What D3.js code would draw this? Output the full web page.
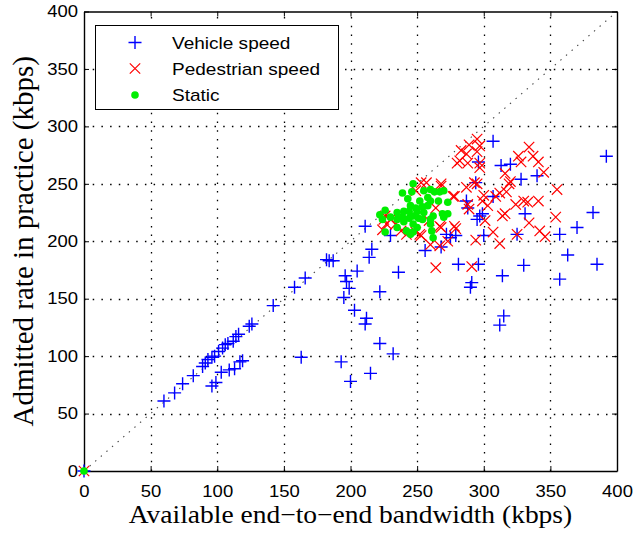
<!DOCTYPE html>
<html>
<head>
<meta charset="utf-8">
<script src="https://cdn.jsdelivr.net/npm/d3@7"></script>
<style>
  html, body { margin: 0; padding: 0; background: #fff; }
  svg { display: block; }
</style>
</head>
<body>
<svg id="chart" width="641" height="533"></svg>
<script>
// Measured throughput: available end-to-end bandwidth vs. admitted rate (kbps)
const tickValues = [0, 50, 100, 150, 200, 250, 300, 350, 400];

const seriesNames = ["Vehicle speed", "Pedestrian speed", "Static"];

const vehicle = [
  [0,0],
  [60,61],[68,68],[74,76],[82,83],[89,91],[91,94],[93,97],[96,99],[98,100],
  [101,104],[104,107],[106,110],[108,111],[112,113],[114,117],[116,119],
  [124,126],[126,128],[142,144],[158,160],[166,168],[182,184],[184,183],[187,183],
  [96,74],[99,77],[103,86],[109,88],[113,89],[117,95],[119,96],
  [163,99],[193,95],
  [211,213],[230,205],[216,193],[214,186],[205,174],[236,173],[196,170],[197,165],
  [199,159],[195,151],[222,156],[203,140],[212,133],[211,128],[222,111],[232,102],
  [215,85],[200,78],
  [256,192],[268,195],[281,180],[272,206],[275,203],[279,205],
  [287,235],[288,229],[297,222],[299,224],[295,219],[300,205],[296,180],
  [291,164],[290,160],[315,135],[312,127],[314,170],[330,179],
  [307,287],[313,266],[320,267],[328,254],[340,257],[296,269],[294,251],[307,239],
  [331,224],[382,225],[370,212],[357,206],[325,206],[363,188],[385,180],[357,167],
  [392,274]
];

const pedestrian = [
  [0,0],
  [289,284],[295,289],[297,283],[283,279],[287,276],[295,278],[280,268],[288,268],
  [297,268],[297,264],[282,270],
  [334,282],[337,274],[341,269],[326,274],[328,269],[345,260],[316,259],[320,252],
  [319,250],[355,245],[293,251],[317,243],[312,242],[309,239],[300,240],[303,231],
  [324,232],[330,235],[333,234],[341,235],[289,228],[288,232],[314,222],[316,224],
  [354,221],[334,216],[301,218],[307,208],[342,209],[346,204],[325,206],[294,201],
  [312,198],[291,178],
  [287,247],[278,239],[299,235],[278,213],[268,212],[273,200],[264,177],
  [253,251],[257,251],[268,250],[268,248],[249,244],[277,239],[264,229],[226,222],
  [230,219],[259,218],[267,213],[279,211],[238,209],[249,208],[242,206],[252,206],
  [227,215],[234,215],[253,205],[260,197],[267,196],[225,219],[224,210],[295,250]
];

const staticPts = [
  [0,0],
  [247,250],[239,242],[246,243],[255,244],[260,245],[263,243],[267,243],[270,244],
  [243,237],[252,235],[258,238],[260,235],[266,235],[273,234],
  [245,231],[249,229],[254,230],[258,231],[226,227],[235,225],[240,226],[244,226],
  [250,226],[255,225],[262,222],[269,224],[273,224],
  [222,223],[230,221],[235,219],[239,221],[244,220],[247,222],[251,220],[254,219],
  [260,219],[270,221],[224,219],[240,217],[247,215],
  [235,212],[242,209],[247,208],[250,212],[260,215],[226,208],[245,206],[261,209],
  [262,203]
];

const svg = d3.select("#chart");
const W = 641, H = 533;
const plot = { left: 84, right: 617, top: 11.5, bottom: 471 };

svg.append("rect").attr("width", W).attr("height", H).attr("fill", "#fff");

const x = d3.scaleLinear().domain([0, 400]).range([plot.left, plot.right]);
const y = d3.scaleLinear().domain([0, 400]).range([plot.bottom, plot.top]);

const tickFont = "'Liberation Sans', Arial, Helvetica, sans-serif";
const labelFont = "'Liberation Serif', 'Times New Roman', Times, serif";
const textStretch = 1.12;   // glyphs are drawn slightly wide

// dotted grid
const grid = svg.append("g").attr("stroke", "#000").attr("stroke-width", 1.3)
  .attr("stroke-dasharray", "1.5,7.2").attr("fill", "none");
tickValues.slice(1, -1).forEach(v => {
  const gx = Math.round(x(v)) + 0.5, gy = Math.round(y(v)) + 0.5;
  grid.append("line").attr("x1", gx).attr("x2", gx).attr("y1", plot.bottom).attr("y2", plot.top);
  grid.append("line").attr("x1", plot.left).attr("x2", plot.right).attr("y1", gy).attr("y2", gy);
});

// reference line: admitted = available
svg.append("line")
  .attr("x1", x(0)).attr("y1", y(0)).attr("x2", x(400)).attr("y2", y(400))
  .attr("stroke", "#444").attr("stroke-width", 1.1).attr("stroke-dasharray", "1.4,6");

// axes with inward ticks on all four sides
function styleAxis(g) {
  g.selectAll("path.domain").attr("stroke", "#000").attr("stroke-width", 1.4);
  g.selectAll(".tick line").attr("stroke", "#000").attr("stroke-width", 1);
  g.selectAll("text").attr("font-family", tickFont).attr("font-size", 16.5).attr("fill", "#000");
}
const xAxis = svg.append("g").attr("transform", `translate(0,${plot.bottom})`)
  .call(d3.axisBottom(x).tickValues(tickValues).tickSize(-5).tickSizeOuter(0).tickPadding(14))
  .call(styleAxis);
xAxis.selectAll(".tick text").attr("transform", `scale(${textStretch},1)`)
  .attr("x", 0);
const yAxis = svg.append("g").attr("transform", `translate(${plot.left},0)`)
  .call(d3.axisLeft(y).tickValues(tickValues).tickSize(-5).tickSizeOuter(0).tickPadding(6))
  .call(styleAxis);
yAxis.selectAll(".tick text").attr("transform", `scale(${textStretch},1)`)
  .attr("x", -6 / textStretch);
svg.append("g").attr("transform", `translate(0,${plot.top})`)
  .call(d3.axisTop(x).tickValues(tickValues).tickSize(-5).tickSizeOuter(0).tickFormat(""))
  .call(styleAxis);
svg.append("g").attr("transform", `translate(${plot.right},0)`)
  .call(d3.axisRight(y).tickValues(tickValues).tickSize(-5).tickSizeOuter(0).tickFormat(""))
  .call(styleAxis);

// marker shapes
const plusPath = (cx, cy, s) => `M${cx - s},${cy}H${cx + s}M${cx},${cy - s}V${cy + s}`;
const crossPath = (cx, cy, s) => `M${cx - s},${cy - s}L${cx + s},${cy + s}M${cx - s},${cy + s}L${cx + s},${cy - s}`;

const marks = svg.append("g");
marks.append("g").selectAll("path").data(vehicle).join("path")
  .attr("d", d => plusPath(x(d[0]), y(d[1]), 6.5))
  .attr("stroke", "#0000ff").attr("stroke-width", 1.4).attr("fill", "none");
marks.append("g").selectAll("path").data(pedestrian).join("path")
  .attr("d", d => crossPath(x(d[0]), y(d[1]), 5.2))
  .attr("stroke", "#ff0000").attr("stroke-width", 1.2).attr("fill", "none");
marks.append("g").selectAll("circle").data(staticPts).join("circle")
  .attr("cx", d => x(d[0])).attr("cy", d => y(d[1])).attr("r", 3.8)
  .attr("fill", "#00ee00");

// legend
const legend = svg.append("g");
legend.append("rect").attr("x", 95.5).attr("y", 25.5).attr("width", 243).attr("height", 84)
  .attr("fill", "#fff").attr("stroke", "#000").attr("stroke-width", 1);
const rows = [42.5, 68.5, 95];
legend.append("path").attr("d", plusPath(135, rows[0], 6.5))
  .attr("stroke", "#0000ff").attr("stroke-width", 1.4).attr("fill", "none");
legend.append("path").attr("d", crossPath(135, rows[1], 5.2))
  .attr("stroke", "#ff0000").attr("stroke-width", 1.2).attr("fill", "none");
legend.append("circle").attr("cx", 135).attr("cy", rows[2]).attr("r", 3.8).attr("fill", "#00ee00");
seriesNames.forEach((name, i) => {
  legend.append("text")
    .attr("transform", `translate(172,${rows[i] + 6}) scale(${textStretch},1)`)
    .attr("font-family", tickFont).attr("font-size", 17).text(name);
});

// axis titles
svg.append("text")
  .attr("transform", `translate(${(plot.left + plot.right) / 2},523) scale(1.1,1)`)
  .attr("text-anchor", "middle").attr("font-family", labelFont).attr("font-size", 25)
  .text("Available end\u2212to\u2212end bandwidth (kbps)");
svg.append("text")
  .attr("transform", `translate(33,${(plot.top + plot.bottom) / 2}) rotate(-90)`)
  .attr("text-anchor", "middle").attr("font-family", labelFont).attr("font-size", 29)
  .text("Admitted rate in practice (kbps)");
</script>
</body>
</html>
